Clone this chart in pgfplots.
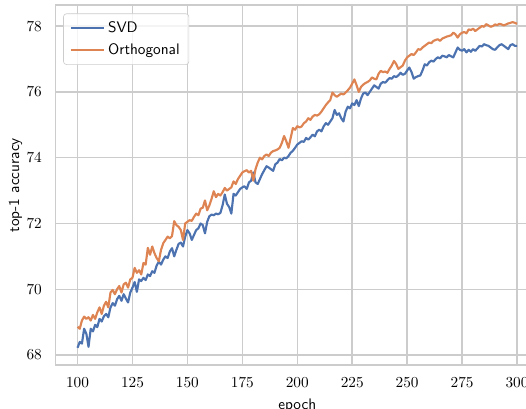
\documentclass[border=0pt]{standalone}
\usepackage{pgfplots}
\pgfplotsset{compat=1.18}
\usepackage{pgfplotstable}
\definecolor{sbblue}{HTML}{4C72B0}
\definecolor{sborange}{HTML}{DD8452}
\definecolor{gridgray}{HTML}{CCCCCC}
\pgfplotstableread{
epoch svd orth
100 68.22 68.86
101 68.40 68.80
102 68.35 69.05
103 68.80 69.17
104 68.65 69.10
105 68.25 69.15
106 68.80 69.05
107 68.72 69.22
108 68.92 69.10
109 68.85 69.30
110 69.10 69.45
111 69.02 69.25
112 69.18 69.50
113 69.25 69.62
114 69.15 69.45
115 69.45 69.90
116 69.58 69.98
117 69.50 69.85
118 69.70 70.00
119 69.80 70.10
120 69.65 69.90
121 69.85 70.15
122 69.72 70.20
123 69.60 70.05
124 69.90 70.30
125 70.05 70.35
126 70.22 70.65
127 69.92 70.50
128 70.30 70.58
129 70.25 70.45
130 70.35 70.80
131 70.28 70.75
132 70.45 71.26
133 70.40 71.05
134 70.55 71.30
135 70.50 71.10
136 70.72 70.95
137 70.84 70.85
138 70.75 71.20
139 70.90 71.40
140 71.00 71.50
141 70.95 71.60
142 71.15 71.55
143 71.25 71.62
144 71.00 72.07
145 71.20 71.95
146 71.38 71.90
147 71.42 71.80
148 71.30 71.50
149 71.60 72.00
150 71.80 72.05
151 71.70 72.10
152 71.50 72.08
153 71.65 72.20
154 71.80 72.30
155 71.85 72.25
156 72.00 72.45
157 71.95 72.48
158 71.70 72.70
159 72.05 72.40
160 72.22 72.55
161 72.27 72.75
162 72.25 72.98
163 72.30 72.80
164 72.28 72.90
165 72.32 72.85
166 72.55 72.95
167 72.88 73.08
168 72.60 73.00
169 72.50 73.05
170 72.30 73.10
171 72.90 73.28
172 72.85 73.20
173 72.95 73.35
174 73.05 73.45
175 73.10 73.55
176 73.13 73.59
177 73.05 73.62
178 73.25 73.55
179 73.30 73.60
180 73.55 73.30
181 73.25 73.65
182 73.20 73.85
183 73.35 74.00
184 73.50 73.95
185 73.62 74.05
186 73.74 74.10
187 73.70 74.05
188 73.65 74.15
189 73.60 74.20
190 73.80 74.22
191 73.85 74.25
192 73.96 74.30
193 73.92 74.45
194 74.00 74.66
195 73.98 74.50
196 74.05 74.30
197 74.15 74.60
198 74.21 74.90
199 74.30 74.85
200 74.40 74.96
201 74.45 74.92
202 74.50 74.95
203 74.48 75.05
204 74.60 75.10
205 74.55 75.20
206 74.62 75.15
207 74.70 75.25
208 74.65 75.30
209 74.80 75.28
210 74.85 75.32
211 74.80 75.40
212 74.95 75.50
213 75.05 75.60
214 75.00 75.68
215 75.10 75.75
216 75.20 75.98
217 75.45 75.90
218 75.30 75.85
219 75.35 75.90
220 75.20 75.95
221 75.10 75.92
222 75.40 75.98
223 75.55 76.05
224 75.50 76.13
225 75.65 76.25
226 75.60 76.38
227 75.75 76.20
228 75.57 76.00
229 75.80 76.15
230 75.95 76.22
231 75.98 76.27
232 75.90 76.30
233 76.00 76.35
234 76.10 76.44
235 76.20 76.40
236 76.15 76.38
237 76.10 76.55
238 76.25 76.64
239 76.30 76.60
240 76.28 76.62
241 76.35 76.58
242 76.42 76.70
243 76.40 76.80
244 76.48 76.94
245 76.45 76.85
246 76.50 76.70
247 76.58 76.75
248 76.52 76.80
249 76.55 76.95
250 76.65 77.05
251 76.74 77.10
252 76.60 77.15
253 76.40 77.12
254 76.45 77.20
255 76.48 77.30
256 76.50 77.28
257 76.65 77.35
258 76.84 77.40
259 76.80 77.45
260 76.90 77.50
261 76.95 77.48
262 76.92 77.55
263 77.00 77.58
264 77.05 77.60
265 77.02 77.55
266 77.10 77.62
267 77.08 77.65
268 77.05 77.68
269 77.12 77.70
270 77.08 77.72
271 77.05 77.80
272 77.20 77.75
273 77.35 77.65
274 77.28 77.75
275 77.25 77.80
276 77.30 77.82
277 77.20 77.78
278 77.28 77.90
279 77.22 77.88
280 77.30 77.92
281 77.25 77.85
282 77.32 77.90
283 77.40 77.95
284 77.38 78.00
285 77.45 77.98
286 77.42 78.06
287 77.40 78.02
288 77.35 77.98
289 77.30 78.00
290 77.28 78.05
291 77.35 78.03
292 77.42 78.07
293 77.45 78.05
294 77.40 78.02
295 77.35 78.05
296 77.30 78.08
297 77.42 78.10
298 77.45 78.12
299 77.40 78.10
300 77.40 78.07
}\datatable
\begin{document}
\begin{tikzpicture}
\begin{axis}[
  name=ax,
  scale only axis,
  width=316.7pt, height=236pt,
  xmin=90, xmax=310, ymin=67.69, ymax=78.64,
  xtick={100,125,...,300},
  ytick={68,70,...,78},
  grid=major,
  major grid style={gridgray, line width=1pt},
  axis line style={gridgray, line width=1.1pt},
  tick style={draw=none},
  xticklabel style={yshift=-4.9pt},
  yticklabel style={xshift=-5.5pt},
  xlabel={\sffamily epoch},
  ylabel={\sffamily top-1 accuracy},
  ylabel style={yshift=-4pt},
  legend style={at={(rel axis cs:0,1)}, anchor=north west, xshift=5pt, yshift=-5.5pt,
    draw=gridgray, fill=white, fill opacity=0.8, text opacity=1, rounded corners=2pt,
    font=\sffamily, row sep=2pt, inner xsep=4pt, inner ysep=3pt},
  legend cell align=left,
  legend image code/.code={\draw[#1, line width=1.2pt] (0pt,0pt) -- (22pt,0pt);},
]
\addplot[sbblue, line width=1.4pt, line join=round] table[x=epoch, y=svd] {\datatable};
\addlegendentry{SVD}
\addplot[sborange, line width=1.4pt, line join=round] table[x=epoch, y=orth] {\datatable};
\addlegendentry{Orthogonal}
\end{axis}
\pgfresetboundingbox
\path[use as bounding box] ([shift={(-36.4pt,-28.5pt)}]ax.south west) rectangle ([shift={(-8.5pt,3.3pt)}]ax.north east);
\end{tikzpicture}
\end{document}
